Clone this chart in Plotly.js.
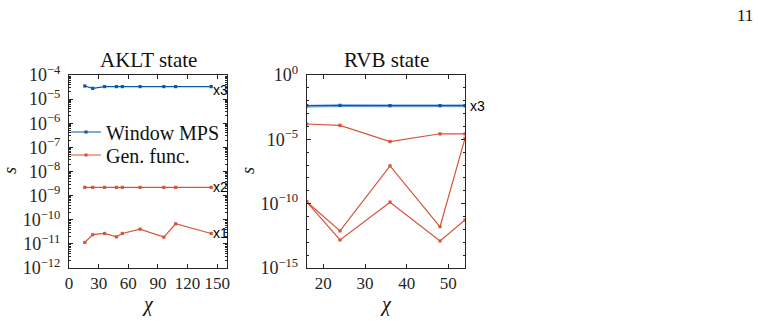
<!DOCTYPE html>
<html>
<head>
<meta charset="utf-8">
<script src="https://cdn.plot.ly/plotly-3.0.1.min.js"></script>
<style>
  html, body { margin: 0; padding: 0; background: #fff; }
  #chart { width: 758px; height: 321px; }
</style>
</head>
<body>
<div id="chart"></div>
<script>
// Bond dimensions
const chiAKLT = [16, 24, 36, 48, 54, 72, 96, 108, 144];
const chiRVB = [16, 24, 36, 48, 54];

// AKLT state: window MPS and generating-function results
const akltWindow = [3.5e-5, 2.8e-5, 3.3e-5, 3.3e-5, 3.3e-5, 3.3e-5, 3.3e-5, 3.3e-5, 3.3e-5];
const akltGenX2 = [2.2e-9, 2.2e-9, 2.2e-9, 2.2e-9, 2.2e-9, 2.2e-9, 2.2e-9, 2.2e-9, 2.2e-9];
const akltGenX1 = [1.15e-11, 2.4e-11, 2.7e-11, 1.95e-11, 2.7e-11, 4.1e-11, 1.9e-11, 6.8e-11, 2.7e-11];

// RVB state
const rvbWindowA = [3.8e-3, 4.2e-3, 4.0e-3, 4.0e-3, 4.1e-3];
const rvbWindowB = [4.1e-3, 4.3e-3, 4.1e-3, 4.1e-3, 4.2e-3];
const rvbGenA = [1.55e-4, 1.23e-4, 6.6e-6, 2.7e-5, 2.7e-5];
const rvbGenB = [1.4e-10, 7.6e-13, 8.5e-8, 1.6e-12, 1.2e-5];
const rvbGenC = [1.4e-10, 1.5e-13, 1.3e-10, 1.26e-13, 5.4e-12];

// Axis tick labels
const akltXTicks = [0, 30, 60, 90, 120, 150];
const akltYExp = [-4, -5, -6, -7, -8, -9, -10, -11, -12];
const rvbXTicks = [20, 30, 40, 50];
const rvbYExp = [0, -5, -10, -15];

const BLUE = '#0b58a6';
const BLUE_LIGHT = '#8db6e2';
const RED = '#d5553a';
const INK = '#262626';
const SERIF = 'Liberation Serif, DejaVu Serif, serif';
const SANS = 'Liberation Sans, Arial, sans-serif';

function powLabels(exps) {
  return exps.map(e => '10<sup>' + (e < 0 ? '\u2212' + (-e) : e) + '</sup>');
}
function minorLog(lo, hi, perDecade) {
  const v = [];
  for (let k = lo; k < hi; k++) {
    if (perDecade) { for (let m = 2; m <= 9; m++) v.push(m * Math.pow(10, k)); }
    else v.push(Math.pow(10, k));
  }
  return v;
}

const line = (x, y, color, name, axes, extra) => Object.assign({
  x: x, y: y, xaxis: axes[0], yaxis: axes[1], name: name,
  type: 'scatter', mode: 'lines+markers',
  line: {color: color, width: 1.2},
  marker: {color: color, size: 3.2, symbol: 'square'},
  showlegend: false, hoverinfo: 'skip'
}, extra || {});

const traces = [
  line(chiAKLT, akltWindow, BLUE, 'Window MPS', ['x', 'y'], {showlegend: true, legend: 'legend'}),
  line(chiAKLT, akltGenX2, RED, 'Gen. func.', ['x', 'y'], {showlegend: true, legend: 'legend2'}),
  line(chiAKLT, akltGenX1, RED, 'Gen. func.', ['x', 'y']),
  line(chiRVB, rvbWindowA, BLUE_LIGHT, 'Window MPS', ['x2', 'y2'], {line: {color: BLUE_LIGHT, width: 3}, marker: {size: 1, color: BLUE_LIGHT}}),
  line(chiRVB, rvbWindowB, BLUE, 'Window MPS', ['x2', 'y2']),
  line(chiRVB, rvbGenA, RED, 'Gen. func.', ['x2', 'y2']),
  line(chiRVB, rvbGenB, RED, 'Gen. func.', ['x2', 'y2']),
  line(chiRVB, rvbGenC, RED, 'Gen. func.', ['x2', 'y2'])
];

const axisBase = {
  showline: true, linecolor: INK, linewidth: 1, mirror: 'ticks',
  ticks: 'inside', ticklen: 4, tickcolor: INK, tickwidth: 1,
  showgrid: false, zeroline: false,
  tickfont: {family: SERIF, size: 17, color: INK}
};

const yTop = (321 - 75) / 321, yBot = (321 - 268) / 321;
const py = v => (321 - v) / 321;
const px = v => v / 758;

const textNote = (text, x, y, size, extra) => Object.assign({
  text: text, xref: 'paper', yref: 'paper', x: px(x), y: py(y),
  xanchor: 'center', yanchor: 'middle', showarrow: false,
  font: {family: SERIF, size: size, color: '#111'}
}, extra || {});

const tag = (text, xref, yref, x, y, dx, dy) => ({
  text: text, xref: xref, yref: yref, x: x, y: Math.log10(y),
  xanchor: 'left', yanchor: 'middle', xshift: dx, yshift: dy, showarrow: false,
  font: {family: SANS, size: 14, color: '#000'}
});

const legendBox = (y) => ({
  x: px(66), xanchor: 'left', y: py(y), yanchor: 'middle',
  bgcolor: 'rgba(0,0,0,0)', borderwidth: 0,
  font: {family: SERIF, size: 20, color: '#111'},
  itemwidth: 30
});

const layout = {
  width: 758, height: 321,
  margin: {l: 0, r: 0, t: 0, b: 0},
  paper_bgcolor: '#fff', plot_bgcolor: '#fff',
  font: {family: SERIF, color: INK},
  showlegend: true,
  legend: legendBox(132),
  legend2: legendBox(155),
  xaxis: Object.assign({}, axisBase, {
    domain: [px(69), px(227)], anchor: 'y', range: [0, 160],
    tickmode: 'array', tickvals: akltXTicks, ticktext: akltXTicks.map(String)
  }),
  yaxis: Object.assign({}, axisBase, {
    domain: [yBot, yTop], anchor: 'x', type: 'log', range: [-12, -4],
    tickmode: 'array', tickvals: akltYExp.map(e => Math.pow(10, e)), ticktext: powLabels(akltYExp),
    tickfont: {family: SERIF, size: 18, color: INK},
    ticklabelstandoff: 4,
    minor: {ticks: 'inside', ticklen: 2, tickcolor: INK, tickmode: 'array', tickvals: minorLog(-12, -4, true)}
  }),
  xaxis2: Object.assign({}, axisBase, {
    domain: [px(306.7), px(465)], anchor: 'y2', range: [16, 54],
    tickmode: 'array', tickvals: rvbXTicks, ticktext: rvbXTicks.map(String)
  }),
  yaxis2: Object.assign({}, axisBase, {
    domain: [yBot, yTop], anchor: 'x2', type: 'log', range: [-15, 0],
    tickmode: 'array', tickvals: rvbYExp.map(e => Math.pow(10, e)), ticktext: powLabels(rvbYExp),
    tickfont: {family: SERIF, size: 18, color: INK},
    ticklabelstandoff: 4,
    minor: {ticks: 'inside', ticklen: 2.5, tickcolor: INK, tickmode: 'array', tickvals: minorLog(-15, 0, false)}
  }),
  annotations: [
    textNote('AKLT state', 148, 60, 21),
    textNote('RVB state', 386, 60, 21),
    textNote('<i>s</i>', 10, 171, 18, {textangle: -90}),
    textNote('<i>s</i>', 248, 171, 18, {textangle: -90}),
    textNote('<i>\u03c7</i>', 148, 304, 20),
    textNote('<i>\u03c7</i>', 386, 304, 20),
    textNote('11', 745, 15, 17),
    tag('x3', 'x', 'y', 144, akltWindow[8], 0, -3),
    tag('x2', 'x', 'y', 144, akltGenX2[8], 0, 0),
    tag('x1', 'x', 'y', 144, akltGenX1[8], 0, 0),
    tag('x3', 'x2', 'y2', 54, rvbWindowB[4], 3, 0)
  ]
};

Plotly.newPlot('chart', traces, layout, {staticPlot: true, displayModeBar: false});
</script>
</body>
</html>
